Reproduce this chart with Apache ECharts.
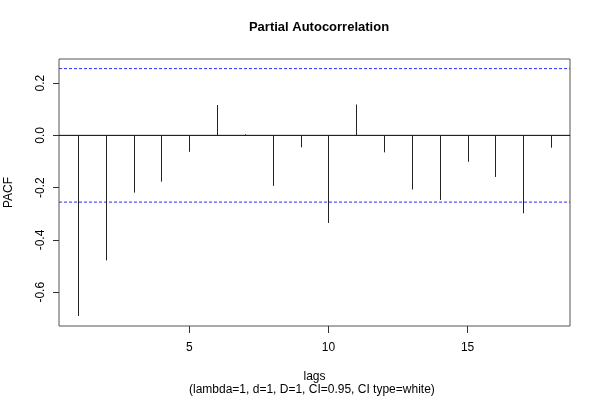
<!DOCTYPE html>
<html>
<head>
<meta charset="utf-8">
<script src="https://cdn.jsdelivr.net/npm/echarts@6/dist/echarts.min.js"></script>
<style>html,body{margin:0;padding:0;background:#fff}#c{width:600px;height:400px}</style>
</head>
<body>
<div id="c"></div>
<script>
var lags = [1,2,3,4,5,6,7,8,9,10,11,12,13,14,15,16,17,18];
var pacf = [-0.691,-0.478,-0.219,-0.177,-0.063,0.116,0.004,-0.193,-0.046,-0.335,0.118,-0.065,-0.207,-0.247,-0.101,-0.159,-0.298,-0.047];
var ciLimit = 0.2552;
var xTicks = [5,10,15];
var yTicks = [-0.6,-0.4,-0.2,0.0,0.2];
var titleText = 'Partial Autocorrelation';
var xLabel = 'lags';
var subLabel = '(lambda=1, d=1, D=1, CI=0.95, CI type=white)';
var yLabel = 'PACF';

var X_MIN = 0.32, X_MAX = 18.68;
var FONT = '"Liberation Sans", Arial, Helvetica, sans-serif';
var chart = echarts.init(document.getElementById('c'), null, {renderer:'canvas'});
var data = lags.map(function(l,i){return [l,pacf[i]];});
function hline(v, color, type){
  return {type:'line',data:[[X_MIN,v],[X_MAX,v]],symbol:'none',silent:true,z:1,
    lineStyle:{color:color,type:type,width:1},itemStyle:{color:color}};
}
chart.setOption({
  animation:false,
  backgroundColor:'#fff',
  title:{text:titleText,left:314,top:16,textAlign:'center',
    textStyle:{fontFamily:FONT,fontSize:13,fontWeight:'bold',color:'#000'}},
  grid:{left:59,right:30,top:59,bottom:74,outerBoundsMode:'none',containLabel:false,
    show:true,borderColor:'#555',borderWidth:1,backgroundColor:'transparent'},
  xAxis:{type:'value',min:X_MIN,max:X_MAX,
    axisLine:{show:false,onZero:false},
    axisTick:{show:true,length:7,customValues:xTicks,lineStyle:{color:'#333'}},
    axisLabel:{customValues:xTicks,margin:16,fontFamily:FONT,fontSize:12,color:'#000'},
    splitLine:{show:false},
    name:xLabel,nameLocation:'middle',nameGap:45,
    nameTextStyle:{fontFamily:FONT,fontSize:12,color:'#000'}},
  yAxis:{type:'value',min:-0.729,max:0.292,
    axisLine:{show:false,onZero:false},
    axisTick:{show:true,length:6,customValues:yTicks,lineStyle:{color:'#333'}},
    axisLabel:{customValues:yTicks,rotate:90,margin:12,fontFamily:FONT,fontSize:12,color:'#000',
      formatter:function(v){return v.toFixed(1);}},
    splitLine:{show:false},
    name:yLabel,nameLocation:'middle',nameGap:44,nameRotate:90,
    nameTextStyle:{fontFamily:FONT,fontSize:12,color:'#000'}},
  graphic:[{type:'text',left:314-125,top:384,style:{text:subLabel,font:'12px '+FONT,fill:'#000'}}],
  series:[
    hline(0,'#000','solid'),
    hline(ciLimit,'#2a2aff',[3,2]),
    hline(-ciLimit,'#2a2aff',[3,2]),
    {
    type:'custom',
    data:data,
    z:3,
    renderItem:function(params,api){
      var p0=api.coord([api.value(0),0]);
      var p1=api.coord([api.value(0),api.value(1)]);
      var x=Math.round(p0[0])+0.5;
      return {type:'line',shape:{x1:x,y1:p0[1],x2:x,y2:p1[1]},style:{stroke:'#222',lineWidth:1}};
    }
  }]
});
</script>
</body>
</html>
